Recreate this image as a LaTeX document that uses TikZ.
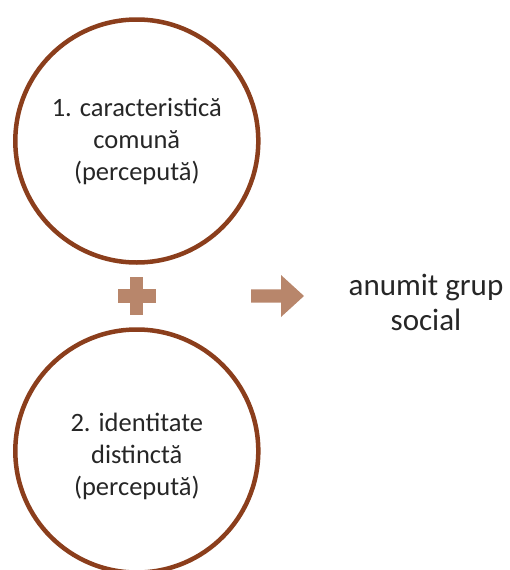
\documentclass[tikz,border=0pt]{standalone}
\usepackage{fontspec}
\setmainfont{Carlito}
\usetikzlibrary{calc}
\definecolor{ringbrown}{HTML}{8B3E1C}
\definecolor{signtan}{HTML}{B8866B}
\definecolor{inkgray}{HTML}{262626}
\begin{document}
\begin{tikzpicture}[x=1pt,y=-1pt,
  ring/.style={circle,draw=ringbrown,line width=4.5pt,minimum size=243pt,inner sep=0pt},
  ringtext/.style={align=center,text=inkgray,inner sep=0pt,font=\fontsize{26.5}{32}\selectfont},
  restext/.style={align=center,text=inkgray,font=\fontsize{31}{35}\selectfont},
  sign/.style={fill=signtan,draw=none}]
  \useasboundingbox (0,0) rectangle (509,570);
  % the two perceived attributes
  \node[ring] (c1) at (136.8,141) {};
  \node[ringtext] (t1) at (c1.center) {1. caracteristică\\comună\\(percepută)};
  \node[ring] (c2) at (136.8,451) {};
  \node[ringtext] (t2) at ($(c2.center)+(0,5.5)$) {2. identitate\\distinctă\\(percepută)};
  % plus sign between them
  \coordinate (p) at (136.5,296);
  \fill[sign] ($(p)+(-19,-6.7)$) rectangle ($(p)+(19,6.7)$);
  \fill[sign] ($(p)+(-6.7,-19)$) rectangle ($(p)+(6.7,19)$);
  % block arrow towards the result
  \coordinate (a) at (251,296);
  \fill[sign] ($(a)+(0,-6.7)$) -- ($(a)+(30,-6.7)$) -- ($(a)+(30,-21)$) -- ($(a)+(53,0)$)
     -- ($(a)+(30,21)$) -- ($(a)+(30,6.7)$) -- ($(a)+(0,6.7)$) -- cycle;
  % result
  \node[restext] (res) at (426,302) {anumit grup\\social};
\end{tikzpicture}
\end{document}
